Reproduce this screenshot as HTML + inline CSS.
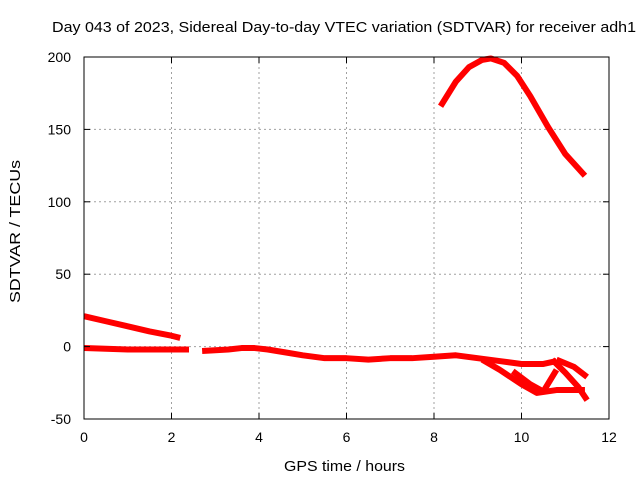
<!DOCTYPE html>
<html><head><meta charset="utf-8"><style>
body{margin:0;background:#fff;}
svg text{font-family:"Liberation Sans",sans-serif;font-size:14px;fill:#000;}
</style></head><body>
<svg id="chart" width="640" height="480" xmlns="http://www.w3.org/2000/svg">
<text x="52" y="32" textLength="584" lengthAdjust="spacingAndGlyphs" style="font-size:15px">Day 043 of 2023, Sidereal Day-to-day VTEC variation (SDTVAR) for receiver adh1</text>
<g id="grid"></g>
<g id="series"></g>
<rect x="84" y="57" width="525" height="362" fill="none" stroke="#000" stroke-width="1"/>
<g id="ticks"></g>
<text x="284" y="471" textLength="121" lengthAdjust="spacingAndGlyphs" style="font-size:15px">GPS time / hours</text>
<text transform="translate(20,303) rotate(-90)" textLength="143" lengthAdjust="spacingAndGlyphs" style="font-size:15px">SDTVAR / TECUs</text>
</svg>
<script>
const xTicks=[0,2,4,6,8,10,12];
const yTicks=[-50,0,50,100,150,200];
const arcT=[8.15,8.5,8.8,9.1,9.3,9.6,9.9,10.2,10.6,11.0,11.45];
const arcV=[166,183,193,198,199,196,187,173,152,133,118];
const declT=[0,0.5,1,1.5,2,2.2];
const declV=[21,17.5,14,10.5,7.5,6];
const mainAT=[0,0.5,1,1.5,2,2.4];
const mainAV=[-1,-1.5,-2,-2,-2,-2];
const mainBT=[2.7,3.0,3.3,3.6,3.9,4.2,4.6,5.0,5.5,6.0,6.5,7.0,7.5,8.0,8.5,9.0,9.5,10.0,10.5,10.8];
const mainBV=[-3,-2.5,-2,-1,-1,-2,-4,-6,-8,-8,-9,-8,-8,-7,-6,-8,-10,-12,-12,-10];
const dipT=[9.1,9.5,10.0,10.35,10.8,11.45];
const dipV=[-9,-16,-26,-32,-30,-30];
const loopT=[9.8,10.2,10.5,10.8];
const loopV=[-17,-26,-31,-16];
const fallT=[10.7,11.0,11.3,11.5];
const fallV=[-9,-18,-28,-37];
const branchT=[10.8,11.2,11.5];
const branchV=[-9,-14,-21];
const X=t=>84+t*525/12;
const Y=v=>57+(200-v)*362/250;
const NS='http://www.w3.org/2000/svg';
const grid=document.getElementById('grid'),ticks=document.getElementById('ticks'),ser=document.getElementById('series');
function mk(tag,attrs,parent){const e=document.createElementNS(NS,tag);for(const k in attrs)e.setAttribute(k,attrs[k]);parent.appendChild(e);return e;}
xTicks.forEach(t=>{
 if(t>0&&t<12){const g=mk('line',{x1:X(t),x2:X(t),y1:57,y2:419,stroke:'#a0a0a0','stroke-dasharray':'2,3'},grid);
 
 }
 mk('line',{x1:X(t),x2:X(t),y1:419,y2:413,stroke:'#000'},ticks);
 mk('line',{x1:X(t),x2:X(t),y1:57,y2:63,stroke:'#000'},ticks);
 const l=mk('text',{x:X(t),y:442,'text-anchor':'middle'},ticks);l.textContent=t;
 
 
});
yTicks.forEach(v=>{
 if(v>-50&&v<200){const g=mk('line',{x1:84,x2:609,y1:Y(v),y2:Y(v),stroke:'#a0a0a0','stroke-dasharray':'2,3'},grid);
 
 }
 mk('line',{x1:84,x2:90,y1:Y(v),y2:Y(v),stroke:'#000'},ticks);
 mk('line',{x1:603,x2:609,y1:Y(v),y2:Y(v),stroke:'#000'},ticks);
 const l=mk('text',{x:71,y:Y(v)+5,'text-anchor':'end'},ticks);l.textContent=v;
 
 
});
function line(ts,vs,name){
 const p=mk('polyline',{points:ts.map((t,i)=>X(t)+','+Y(vs[i])).join(' '),fill:'none',stroke:'#ff0000','stroke-width':6,'stroke-linejoin':'round'},ser);
 
 
}
line(arcT,arcV,'arc-series');
line(declT,declV,'declining-series');
line(mainAT,mainAV,'main-series-a');
line(mainBT,mainBV,'main-series-b');
line(dipT,dipV,'dip-series');
line(loopT,loopV,'loop-series');
line(fallT,fallV,'fall-series');
line(branchT,branchV,'branch-series');
</script>
</body></html>
